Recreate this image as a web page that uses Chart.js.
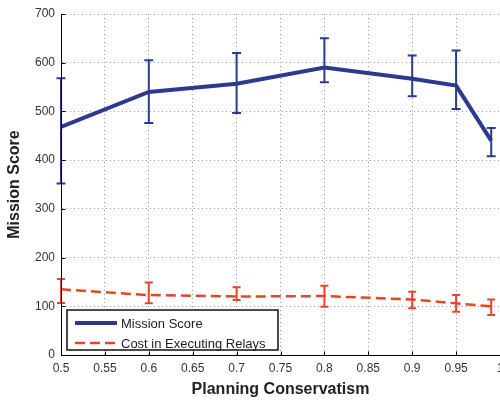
<!DOCTYPE html>
<html>
<head>
<meta charset="utf-8">
<script src="https://cdn.jsdelivr.net/npm/chart.js@4.4.1/dist/chart.umd.min.js"></script>
<style>
  html, body { margin: 0; padding: 0; background: #fff; overflow: hidden; }
  #chart { display: block; }
</style>
</head>
<body>
<canvas id="chart" width="500" height="402"></canvas>
<script>
// Planning conservatism levels on the x axis
const conservatism = [0.5, 0.6, 0.7, 0.8, 0.9, 0.95, 0.99];
const xTicks = [0.5, 0.55, 0.6, 0.65, 0.7, 0.75, 0.8, 0.85, 0.9, 0.95, 1];

// Mission score: mean with lower / upper error bounds
const missionScore = [468, 540, 557, 590, 567, 553, 440];
const missionLow   = [352, 476, 497, 560, 531, 505, 408];
const missionHigh  = [568, 605, 620, 650, 615, 625, 466];

// Cost in executing relays: mean with lower / upper error bounds
const relayCost = [135, 123, 120, 121, 114, 106, 100];
const costLow   = [107, 106, 113, 99, 96, 89, 82];
const costHigh  = [156, 149, 139, 142, 130, 123, 114];

const seriesNames = ['Mission Score', 'Cost in Executing Relays'];
const yTicks = [0, 100, 200, 300, 400, 500, 600, 700];

const BLUE = '#2b3a8e';
const RED = '#ea4426';
const FONT = "'Liberation Sans', Arial, sans-serif";

const toPoints = (ys) => conservatism.map((x, i) => ({ x, y: ys[i] }));

// Vertical error bars with short caps at both ends
const errorBars = {
  id: 'errorBars',
  afterDatasetsDraw(chart) {
    const { ctx, scales: { x, y } } = chart;
    chart.data.datasets.forEach((ds) => {
      if (!ds.errLow) return;
      ctx.save();
      ctx.strokeStyle = ds.borderColor;
      ctx.lineWidth = ds.errWidth;
      ctx.setLineDash([]);
      ds.data.forEach((p, i) => {
        const px = x.getPixelForValue(p.x);
        const lo = y.getPixelForValue(ds.errLow[i]);
        const hi = y.getPixelForValue(ds.errHigh[i]);
        const c = ds.capHalf;
        ctx.beginPath();
        ctx.moveTo(px, lo); ctx.lineTo(px, hi);
        ctx.moveTo(px - c, lo); ctx.lineTo(px + c, lo);
        ctx.moveTo(px - c, hi); ctx.lineTo(px + c, hi);
        ctx.stroke();
      });
      ctx.restore();
    });
  }
};

// Solid axis lines on top, with short tick marks pointing into the plot
const innerTicks = {
  id: 'innerTicks',
  afterDraw(chart) {
    const { ctx, chartArea: a, scales: { x, y } } = chart;
    ctx.save();
    ctx.strokeStyle = '#000';
    ctx.lineWidth = 1;
    ctx.beginPath();
    const lx = Math.round(a.left) + 0.5;
    const by = Math.round(a.bottom) + 0.5;
    ctx.moveTo(lx, a.top); ctx.lineTo(lx, by);
    ctx.lineTo(a.right, by);
    y.ticks.forEach((t) => {
      const py = Math.round(y.getPixelForValue(t.value)) + 0.5;
      ctx.moveTo(lx, py); ctx.lineTo(lx + 4, py);
    });
    x.ticks.forEach((t) => {
      const px = Math.round(x.getPixelForValue(t.value)) + 0.5;
      ctx.moveTo(px, by); ctx.lineTo(px, by - 4);
    });
    ctx.stroke();
    ctx.restore();
  }
};

// Boxed legend in the lower-left corner of the plot
const boxLegend = {
  id: 'boxLegend',
  afterDraw(chart) {
    const { ctx, chartArea: a } = chart;
    const bx = a.left + 6, by = a.bottom - 45, bw = 211, bh = 40;
    ctx.save();
    ctx.fillStyle = '#fff';
    ctx.fillRect(bx, by, bw, bh);
    ctx.strokeStyle = '#111';
    ctx.lineWidth = 1.5;
    ctx.strokeRect(bx, by, bw, bh);
    ctx.font = '13px ' + FONT;
    ctx.textBaseline = 'middle';
    chart.data.datasets.forEach((ds, i) => {
      const ly = by + 13 + i * 20;
      ctx.strokeStyle = ds.borderColor;
      ctx.lineWidth = ds.borderWidth;
      ctx.setLineDash(ds.borderDash || []);
      ctx.beginPath();
      ctx.moveTo(bx + 8, ly); ctx.lineTo(bx + 50, ly);
      ctx.stroke();
      ctx.setLineDash([]);
      ctx.fillStyle = '#222';
      ctx.fillText(ds.label, bx + 54, ly + 1);
    });
    ctx.restore();
  }
};

const fmt = (v) => String(Number(v.toFixed(2)));

new Chart(document.getElementById('chart'), {
  type: 'line',
  data: {
    datasets: [
      {
        label: seriesNames[0],
        data: toPoints(missionScore),
        errLow: missionLow, errHigh: missionHigh,
        errWidth: 2, capHalf: 4.5,
        borderColor: BLUE, borderWidth: 4,
        pointRadius: 0, tension: 0, fill: false
      },
      {
        label: seriesNames[1],
        data: toPoints(relayCost),
        errLow: costLow, errHigh: costHigh,
        errWidth: 2, capHalf: 4,
        borderColor: RED, borderWidth: 2.5, borderDash: [10, 5],
        pointRadius: 0, tension: 0, fill: false
      }
    ]
  },
  options: {
    responsive: false,
    animation: false,
    devicePixelRatio: 1,
    layout: { padding: { top: 14, right: 0, left: 0, bottom: 0 } },
    plugins: { legend: { display: false }, tooltip: { enabled: false } },
    scales: {
      x: {
        type: 'linear',
        min: 0.5, max: 1,
        afterBuildTicks(scale) { scale.ticks = xTicks.map(v => ({ value: v })); },
        afterFit(scale) { scale.height = 47; scale.paddingLeft = 0; scale.paddingRight = 0; },
        ticks: {
          callback: (v) => fmt(v),
          font: { family: FONT, size: 12 },
          color: '#333',
          padding: 6,
          maxRotation: 0,
          autoSkip: false
        },
        grid: { color: '#9a9a9a', lineWidth: 1, drawTicks: false },
        border: { display: true, color: '#000', width: 1, dash: [1, 3] },
        title: {
          display: true,
          text: 'Planning Conservatism',
          font: { family: FONT, size: 16, weight: 'bold' },
          color: '#222',
          padding: { top: 0, bottom: 3 }
        }
      },
      y: {
        type: 'linear',
        min: 0, max: 700,
        afterBuildTicks(scale) { scale.ticks = yTicks.map(v => ({ value: v })); },
        afterFit(scale) { scale.width = 61; scale.paddingTop = 0; scale.paddingBottom = 0; },
        ticks: {
          font: { family: FONT, size: 12 },
          color: '#333',
          padding: 6
        },
        grid: { color: '#9a9a9a', lineWidth: 1, drawTicks: false },
        border: { display: true, color: '#000', width: 1, dash: [1, 3] },
        title: {
          display: true,
          text: 'Mission Score',
          font: { family: FONT, size: 16, weight: 'bold' },
          color: '#222',
          padding: { top: 5, bottom: 0 }
        }
      }
    }
  },
  plugins: [errorBars, innerTicks, boxLegend]
});
</script>
</body>
</html>
